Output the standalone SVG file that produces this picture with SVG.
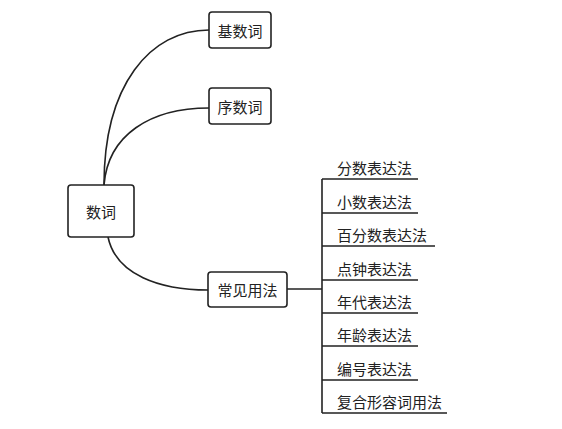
<svg xmlns="http://www.w3.org/2000/svg" width="562" height="429" viewBox="0 0 562 429">
<style>
.box{fill:#fff;stroke:#222;stroke-width:1.6}
.t{font-family:"Noto Sans CJK SC","Noto Sans",sans-serif;font-size:15px;fill:#222}
.c{text-anchor:middle;dominant-baseline:central}
.ln{fill:none;stroke:#222;stroke-width:1.6}
</style>
<rect width="562" height="429" fill="#fff"/>
<g id="connectors">
<path class="ln" d="M104,185 C104,85 150,30 209,30"/>
<path class="ln" d="M104,185 C108,135 150,108 209,108"/>
<path class="ln" d="M108,237 C116,275 160,290 208,290"/>
<path class="ln" d="M287,289 H322"/>
<path class="ln" d="M322,179 V413"/>
<path class="ln" d="M322,179 H418 M322,213 H418 M322,246 H435 M322,280 H418 M322,313 H418 M322,346 H418 M322,380 H418 M322,413 H447"/>
</g>
<g id="root"><rect class="box" x="68" y="185" width="66" height="52" rx="3"/><text class="t c" x="101" y="211">数词</text></g>
<g id="n1"><rect class="box" x="209" y="12" width="62" height="36" rx="3"/><text class="t c" x="240" y="30">基数词</text></g>
<g id="n2"><rect class="box" x="209" y="88" width="62" height="36" rx="3"/><text class="t c" x="240" y="106">序数词</text></g>
<g id="n3"><rect class="box" x="208" y="272" width="79" height="35" rx="3"/><text class="t c" x="247.5" y="289.5">常见用法</text></g>
<g id="l1"><text class="t" x="337" y="174">分数表达法</text></g>
<g id="l2"><text class="t" x="337" y="208">小数表达法</text></g>
<g id="l3"><text class="t" x="337" y="241">百分数表达法</text></g>
<g id="l4"><text class="t" x="337" y="275">点钟表达法</text></g>
<g id="l5"><text class="t" x="337" y="308">年代表达法</text></g>
<g id="l6"><text class="t" x="337" y="341">年龄表达法</text></g>
<g id="l7"><text class="t" x="337" y="375">编号表达法</text></g>
<g id="l8"><text class="t" x="337" y="408">复合形容词用法</text></g>
</svg>
